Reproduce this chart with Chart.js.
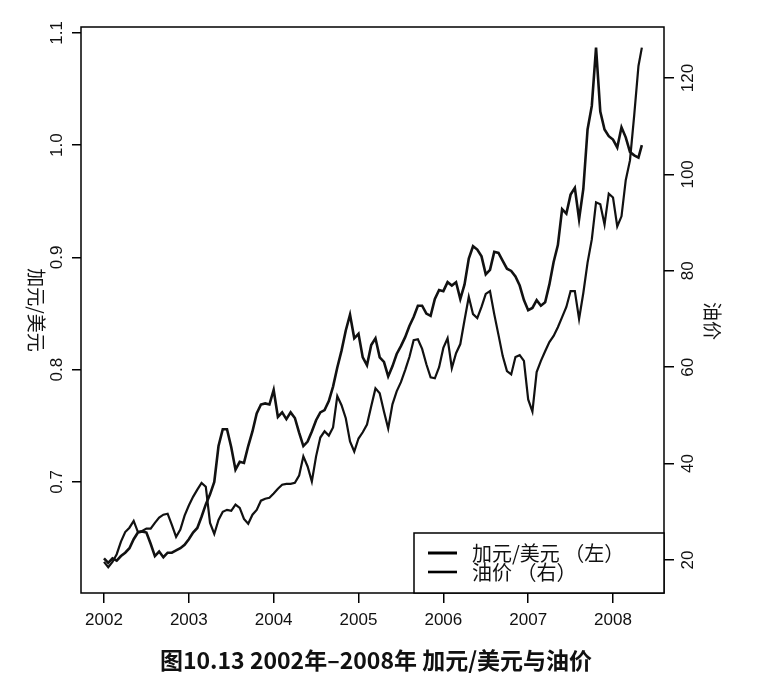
<!DOCTYPE html>
<html><head><meta charset="utf-8">
<script src="https://cdn.jsdelivr.net/npm/chart.js@4.4.1/dist/chart.umd.min.js"></script>
<style>html,body{margin:0;padding:0;background:#fff;}#wrap{width:761px;height:683px;position:relative;}</style>
</head><body><div id="wrap"><canvas id="c" width="761" height="683"></canvas></div>
<script>
const years = [
2002.00,2002.05,2002.10,2002.15,2002.20,2002.25,2002.30,2002.35,2002.40,2002.45,
2002.50,2002.55,2002.60,2002.65,2002.70,2002.75,2002.80,2002.85,2002.90,2002.95,
2003.00,2003.05,2003.10,2003.15,2003.20,2003.25,2003.30,2003.35,2003.40,2003.45,
2003.50,2003.55,2003.60,2003.65,2003.70,2003.75,2003.80,2003.85,2003.90,2003.95,
2004.00,2004.05,2004.10,2004.15,2004.20,2004.25,2004.30,2004.35,2004.40,2004.45,
2004.50,2004.55,2004.60,2004.65,2004.70,2004.75,2004.80,2004.85,2004.90,2004.95,
2005.00,2005.05,2005.10,2005.15,2005.20,2005.25,2005.30,2005.35,2005.40,2005.45,
2005.50,2005.55,2005.60,2005.65,2005.70,2005.75,2005.80,2005.85,2005.90,2005.95,
2006.00,2006.05,2006.10,2006.15,2006.20,2006.25,2006.30,2006.35,2006.40,2006.45,
2006.50,2006.55,2006.60,2006.65,2006.70,2006.75,2006.80,2006.85,2006.90,2006.95,
2007.00,2007.05,2007.10,2007.15,2007.20,2007.25,2007.30,2007.35,2007.40,2007.45,
2007.50,2007.55,2007.60,2007.65,2007.70,2007.75,2007.80,2007.85,2007.90,2007.95,
2008.00,2008.05,2008.10,2008.15,2008.20,2008.25,2008.30,2008.34];
const cadUsd = [
0.632,0.628,0.632,0.630,0.634,0.637,0.641,0.649,0.655,0.656,
0.655,0.645,0.634,0.638,0.633,0.637,0.637,0.639,0.641,0.644,
0.649,0.655,0.659,0.669,0.680,0.689,0.700,0.732,0.747,0.747,
0.731,0.711,0.718,0.717,0.732,0.745,0.761,0.769,0.770,0.769,
0.782,0.758,0.762,0.756,0.762,0.757,0.744,0.732,0.736,0.745,
0.755,0.762,0.764,0.772,0.785,0.802,0.817,0.835,0.849,0.828,
0.832,0.811,0.804,0.822,0.828,0.811,0.807,0.794,0.803,0.814,
0.821,0.829,0.839,0.847,0.857,0.857,0.850,0.848,0.863,0.871,
0.870,0.878,0.875,0.878,0.863,0.876,0.899,0.910,0.907,0.901,
0.885,0.889,0.905,0.904,0.897,0.890,0.888,0.883,0.875,0.862,
0.853,0.855,0.862,0.857,0.860,0.876,0.896,0.911,0.943,0.939,
0.956,0.962,0.934,0.961,1.014,1.035,1.087,1.030,1.014,1.008,
1.005,0.998,1.016,1.007,0.994,0.991,0.989,1.000];
const oilPrice = [
19.6,18.5,19.6,21.2,23.8,25.8,26.7,28.1,25.8,26.0,
26.5,26.5,27.7,28.8,29.4,29.6,27.3,24.8,26.3,29.2,
31.3,33.1,34.6,36.0,35.2,27.7,25.4,28.3,30.0,30.4,
30.2,31.5,30.8,28.5,27.5,29.4,30.4,32.3,32.7,32.9,
33.8,34.8,35.6,35.8,35.8,36.0,37.5,41.5,39.4,36.3,
41.5,45.4,46.7,45.8,47.5,54.0,52.1,49.4,44.6,42.5,
45.2,46.5,48.1,51.9,55.6,54.6,50.8,47.3,52.3,55.0,
56.9,59.4,62.1,65.6,65.8,63.8,60.6,57.9,57.7,60.0,
64.0,66.0,59.8,62.9,64.8,69.8,74.6,71.0,70.2,72.5,
75.2,75.8,71.0,66.7,62.3,59.2,58.5,62.1,62.5,61.3,
53.3,50.8,59.0,61.3,63.3,65.2,66.5,68.3,70.4,72.5,
75.8,75.8,70.0,75.4,81.7,86.5,94.2,93.8,89.6,96.0,
95.2,89.2,91.3,98.8,102.9,112.3,122.5,126.3];
const xTicks = [2002,2003,2004,2005,2006,2007,2008];
const leftTicks = [0.7,0.8,0.9,1.0,1.1];
const rightTicks = [20,40,60,80,100,120];
const seriesNames = ['加元/美元 （左）','油价 （右）'];
const axisTitles = ['加元/美元','油价'];
const caption = '图10.13 2002年–2008年 加元/美元与油价';

const tickFont = '17px "Liberation Sans", Arial, sans-serif';
const cjk = '"Noto Sans CJK SC", sans-serif';

const deco = {
  id: 'deco',
  afterDraw(chart) {
    const {ctx, chartArea: a, scales} = chart;
    ctx.save();
    ctx.strokeStyle = '#000';
    ctx.lineWidth = 1.5;
    ctx.strokeRect(a.left, a.top, a.right - a.left, a.bottom - a.top);
    ctx.fillStyle = '#111';
    ctx.textAlign = 'center';
    ctx.textBaseline = 'middle';
    ctx.font = tickFont;
    scales.y.ticks.forEach(t => {
      const y = scales.y.getPixelForValue(t.value);
      ctx.save(); ctx.translate(57, y); ctx.rotate(-Math.PI / 2);
      ctx.fillText(t.value.toFixed(1), 0, 0); ctx.restore();
    });
    scales.y1.ticks.forEach(t => {
      const y = scales.y1.getPixelForValue(t.value);
      ctx.save(); ctx.translate(688, y); ctx.rotate(-Math.PI / 2);
      ctx.fillText(String(Math.round(t.value)), 0, 0); ctx.restore();
    });
    ctx.font = '19px ' + cjk;
    ctx.save(); ctx.translate(36, 310); ctx.rotate(Math.PI / 2);
    ctx.fillText(axisTitles[0], 0, 0); ctx.restore();
    ctx.save(); ctx.translate(712, 321); ctx.rotate(Math.PI / 2);
    ctx.fillText(axisTitles[1], 0, 0); ctx.restore();
    // legend
    const lx = 414, ly = 533;
    ctx.fillStyle = '#fff';
    ctx.fillRect(lx, ly, a.right - lx, a.bottom - ly);
    ctx.strokeStyle = '#000';
    ctx.lineWidth = 1.5;
    ctx.strokeRect(lx, ly, a.right - lx, a.bottom - ly);
    const rows = [553, 572];
    ctx.textAlign = 'left';
    ctx.fillStyle = '#111';
    ctx.font = '20px ' + cjk;
    chart.data.datasets.forEach((ds, i) => {
      ctx.lineWidth = ds.borderWidth + 0.4;
      ctx.beginPath(); ctx.moveTo(428, rows[i]); ctx.lineTo(457, rows[i]); ctx.stroke();
      ctx.fillText(ds.label, 472, rows[i]);
    });
    ctx.textAlign = 'center';
    ctx.font = 'bold 23px ' + cjk;
    ctx.fillText(caption, 376, 660);
    ctx.restore();
  }
};

new Chart(document.getElementById('c'), {
  type: 'line',
  data: {
    datasets: [
      {label: seriesNames[0], data: years.map((x, i) => ({x, y: cadUsd[i]})), yAxisID: 'y',
       borderColor: '#111', borderWidth: 2.6, pointRadius: 0, tension: 0, fill: false},
      {label: seriesNames[1], data: years.map((x, i) => ({x, y: oilPrice[i]})), yAxisID: 'y1',
       borderColor: '#111', borderWidth: 2.2, pointRadius: 0, tension: 0, fill: false}
    ]
  },
  options: {
    responsive: false,
    animation: false,
    layout: {padding: {top: 27, left: 0, right: 0, bottom: 0}},
    plugins: {legend: {display: false}, tooltip: {enabled: false}, title: {display: false}},
    scales: {
      x: {
        type: 'linear', min: 2001.729, max: 2008.601,
        afterFit(s) { s.height = 90; },
        afterBuildTicks(s) { s.ticks = xTicks.map(v => ({value: v})); },
        grid: {drawOnChartArea: false, drawTicks: true, tickLength: 10, color: '#000', lineWidth: 1.5},
        border: {display: false},
        ticks: {color: '#111', font: {family: '"Liberation Sans", Arial, sans-serif', size: 17},
                padding: 7, maxRotation: 0, callback: v => String(v)}
      },
      y: {
        type: 'linear', position: 'left', min: 0.6011, max: 1.1053,
        afterFit(s) { s.width = 81; },
        afterBuildTicks(s) { s.ticks = leftTicks.map(v => ({value: v})); },
        grid: {drawOnChartArea: false, drawTicks: true, tickLength: 9, color: '#000', lineWidth: 1.5},
        border: {display: false},
        ticks: {display: false}
      },
      y1: {
        type: 'linear', position: 'right', min: 13.15, max: 130.58,
        afterFit(s) { s.width = 97; },
        afterBuildTicks(s) { s.ticks = rightTicks.map(v => ({value: v})); },
        grid: {drawOnChartArea: false, drawTicks: true, tickLength: 10, color: '#000', lineWidth: 1.5},
        border: {display: false},
        ticks: {display: false}
      }
    }
  },
  plugins: [deco]
});
</script>
</body></html>
